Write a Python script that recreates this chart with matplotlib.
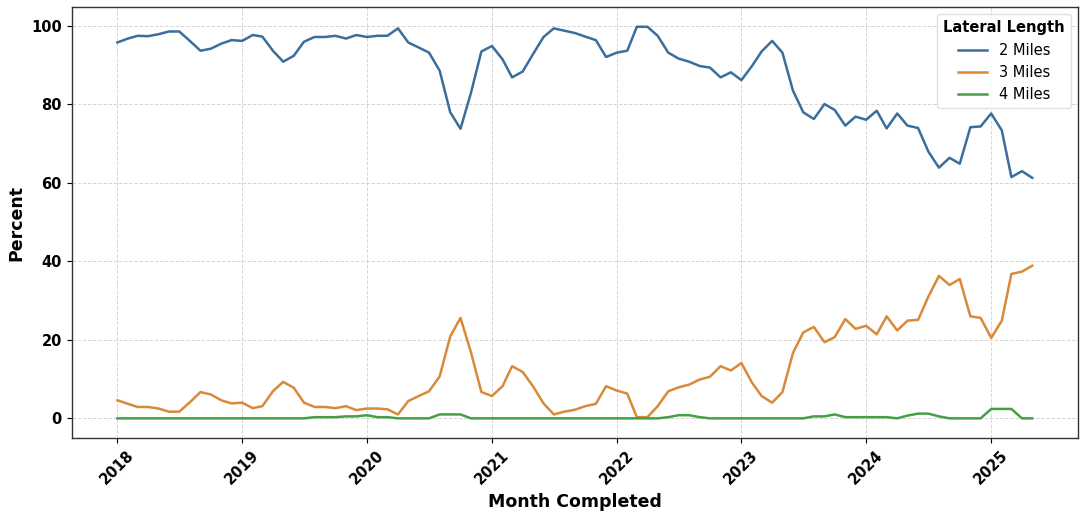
import numpy as np
import pandas as pd
import matplotlib
matplotlib.use("Agg")
import matplotlib.pyplot as plt
import matplotlib.dates as mdates

# monthly share of completions by lateral length, Jan 2018 - May 2025
months = pd.date_range("2018-01-01", "2025-05-01", freq="MS")

two_miles = [
    95.8, 96.8, 97.5, 97.4, 97.9, 98.6, 98.6, 96.2, 93.7, 94.2, 95.5, 96.4,
    96.2, 97.7, 97.3, 93.7, 90.9, 92.4, 96.0, 97.2, 97.2, 97.5, 96.8, 97.7,
    97.2, 97.5, 97.5, 99.4, 95.8, 94.5, 93.2, 88.6, 78.0, 73.8, 83.1, 93.5,
    94.9, 91.5, 86.9, 88.4, 92.8, 97.2, 99.4, 98.8, 98.2, 97.3, 96.4, 92.1,
    93.2, 93.7, 99.8, 99.8, 97.5, 93.2, 91.7, 90.9, 89.8, 89.4, 86.9, 88.2,
    86.2, 89.8, 93.5, 96.2, 93.2, 83.5, 78.0, 76.3, 80.1, 78.6, 74.6, 76.9,
    76.1, 78.4, 73.9, 77.7, 74.6, 74.0, 68.0, 63.9, 66.4, 64.9, 74.2, 74.4,
    77.7, 73.4, 61.5, 63.0, 61.3,
]

three_miles = [
    4.6, 3.7, 2.9, 2.9, 2.5, 1.7, 1.7, 4.1, 6.7, 6.1, 4.6, 3.8,
    4.0, 2.6, 3.1, 6.9, 9.3, 7.8, 4.0, 2.9, 2.9, 2.6, 3.1, 2.1,
    2.5, 2.5, 2.3, 1.0, 4.4, 5.7, 6.9, 10.7, 20.9, 25.6, 16.7, 6.7,
    5.7, 8.2, 13.3, 11.8, 8.2, 3.8, 1.0, 1.7, 2.2, 3.1, 3.7, 8.2,
    7.1, 6.3, 0.3, 0.3, 3.1, 6.9, 7.9, 8.6, 9.9, 10.6, 13.3, 12.2,
    14.1, 9.1, 5.7, 4.0, 6.7, 16.7, 21.9, 23.3, 19.4, 20.7, 25.3, 22.8,
    23.6, 21.4, 26.0, 22.4, 24.9, 25.1, 31.0, 36.3, 34.0, 35.5, 26.0, 25.6,
    20.5, 24.9, 36.8, 37.4, 38.9,
]

four_miles = [
    0, 0, 0, 0, 0, 0, 0, 0, 0, 0, 0, 0,
    0, 0, 0, 0, 0, 0, 0, 0.3, 0.3, 0.3, 0.5, 0.5,
    0.8, 0.3, 0.3, 0, 0, 0, 0, 1.0, 1.0, 1.0, 0, 0,
    0, 0, 0, 0, 0, 0, 0, 0, 0, 0, 0, 0,
    0, 0, 0, 0, 0, 0.3, 0.8, 0.8, 0.3, 0, 0, 0,
    0, 0, 0, 0, 0, 0, 0, 0.5, 0.5, 1.0, 0.3, 0.3,
    0.3, 0.3, 0.3, 0, 0.7, 1.2, 1.2, 0.5, 0, 0, 0, 0,
    2.4, 2.4, 2.4, 0, 0,
]

series_labels = ["2 Miles", "3 Miles", "4 Miles"]
colors = ["#3a6e9c", "#d9893a", "#45a045"]

fig = plt.figure(figsize=(10.86, 5.14), dpi=100)
ax = fig.add_axes([0.066, 0.148, 0.9266, 0.838])

for vals, lab, col in zip([two_miles, three_miles, four_miles], series_labels, colors):
    ax.plot(months, vals, color=col, linewidth=1.8, label=lab)

ax.xaxis.set_major_locator(mdates.YearLocator())
ax.xaxis.set_major_formatter(mdates.DateFormatter("%Y"))
ax.set_yticks([0, 20, 40, 60, 80, 100])

for lbl in ax.get_xticklabels():
    lbl.set_rotation(45)
    lbl.set_fontweight("bold")
    lbl.set_fontsize(10.5)
for lbl in ax.get_yticklabels():
    lbl.set_fontweight("bold")
    lbl.set_fontsize(10.5)

ax.set_xlabel("Month Completed", fontsize=12.5, fontweight="bold")
ax.set_ylabel("Percent", fontsize=12.5, fontweight="bold")

ax.grid(True, linestyle="--", color="#cccccc", linewidth=0.7, alpha=0.8)
for sp in ax.spines.values():
    sp.set_color("#333333")
    sp.set_linewidth(1.0)

leg = ax.legend(title="Lateral Length", loc="upper right", fontsize=10.5,
                title_fontproperties={"weight": "bold", "size": 10.5},
                framealpha=0.9, edgecolor="#dddddd")

fig.savefig("out.png", dpi=100)
